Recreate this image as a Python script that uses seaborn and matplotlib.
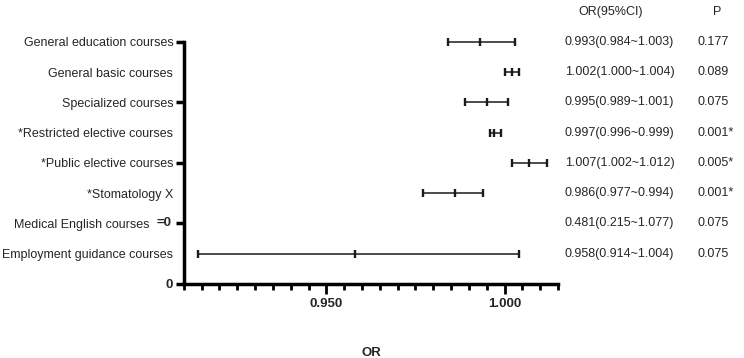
import pandas as pd
import numpy as np
import matplotlib
matplotlib.use('Agg')
import matplotlib.pyplot as plt
import matplotlib.transforms as mtransforms
from matplotlib.ticker import MultipleLocator
import seaborn as sns

# Data
courses = ['General education courses', 'General basic courses', 'Specialized courses',
           '*Restricted elective courses', '*Public elective courses', '*Stomatology X',
           'Medical English courses', 'Employment guidance courses']
or_vals = [0.993, 1.002, 0.995, 0.997, 1.007, 0.986, 0.481, 0.958]
ci_low = [0.984, 1.000, 0.989, 0.996, 1.002, 0.977, 0.215, 0.914]
ci_high = [1.003, 1.004, 1.001, 0.999, 1.012, 0.994, 1.077, 1.004]
or_text = ['0.993(0.984~1.003)', '1.002(1.000~1.004)', '0.995(0.989~1.001)', '0.997(0.996~0.999)',
           '1.007(1.002~1.012)', '0.986(0.977~0.994)', '0.481(0.215~1.077)', '0.958(0.914~1.004)']
p_text = ['0.177', '0.089', '0.075', '0.001*', '0.005*', '0.001*', '0.075', '0.075']
x_min, x_max = 0.910, 1.015

sns.set_style('ticks')
plt.rcParams['font.family'] = ['Liberation Sans', 'DejaVu Sans']

df = pd.DataFrame({'course': courses, 'OR': or_vals, 'low': ci_low, 'high': ci_high})
df['row'] = np.arange(len(df), 0, -1)
# rows whose estimate lies outside the axis range are not drawn (as in the original)
shown = df[(df['OR'] >= x_min) & (df['OR'] <= x_max)]

fig = plt.figure(figsize=(7.44, 3.58), dpi=100)
ax = fig.add_axes([0.247, 0.207, 0.503, 0.676])

ink = '#1a1a1a'
ax.errorbar(shown['OR'], shown['row'],
            xerr=[shown['OR'] - shown['low'], shown['high'] - shown['OR']],
            fmt='none', ecolor=ink, elinewidth=1.1, capsize=2.8, capthick=1.7, clip_on=False)
sns.scatterplot(data=shown, x='OR', y='row', marker='|', s=30, color=ink,
                linewidth=1.7, ax=ax, clip_on=False, zorder=3)

ax.set_xlim(x_min, x_max)
ax.set_ylim(0, 8)
sns.despine(ax=ax)
for side in ['left', 'bottom']:
    ax.spines[side].set_linewidth(2.5)
    ax.spines[side].set_color('black')

# x axis
ax.set_xticks([0.95, 1.0])
ax.set_xticklabels(['0.950', '1.000'], fontweight='bold', fontsize=9.5)
ax.xaxis.set_minor_locator(MultipleLocator(0.005))
ax.tick_params(axis='x', which='major', length=7.5, width=2, pad=3, color='black')
ax.tick_params(axis='x', which='minor', length=4, width=2, color='black')
ax.set_xlabel('OR', fontweight='bold', fontsize=9.5, labelpad=26)
ax.set_ylabel('')

# y axis: categories as tick labels, marks only on even rows
ylabels = ['0'] + list(reversed(courses))
ax.set_yticks(range(0, 9))
ax.set_yticklabels(ylabels, fontsize=9)
ax.tick_params(axis='y', which='major', length=5.5, width=2.5, pad=2, color='black')
for i, tick in enumerate(ax.yaxis.get_major_ticks()):
    if i % 2 == 1:
        tick.tick1line.set_visible(False)
ylab = ax.get_yticklabels()
ylab[0].set_fontweight('bold')
ylab[0].set_fontsize(9.5)
# the "Medical English" label is pushed left to make room for the "=0" tag
shift = mtransforms.ScaledTranslation(-17 / 72, 0, fig.dpi_scale_trans)
ylab[2].set_transform(ylab[2].get_transform() + shift)
ax.annotate('=0', xy=(0, 2), xycoords=('axes fraction', 'data'), xytext=(-9, 0),
            textcoords='offset points', ha='right', va='center', fontweight='bold', fontsize=9.5)

# table columns on the right
trans = mtransforms.blended_transform_factory(fig.transFigure, ax.transData)
ax.text(0.821, 9, 'OR(95%CI)', transform=trans, ha='center', va='center', fontsize=9)
ax.text(0.964, 9, 'P', transform=trans, ha='center', va='center', fontsize=9)
for r, t, p in zip(df['row'], or_text, p_text):
    ax.text(0.759, r, t, transform=trans, ha='left', va='center', fontsize=9)
    ax.text(0.937, r, p, transform=trans, ha='left', va='center', fontsize=9)

fig.savefig('out.png', dpi=100)
